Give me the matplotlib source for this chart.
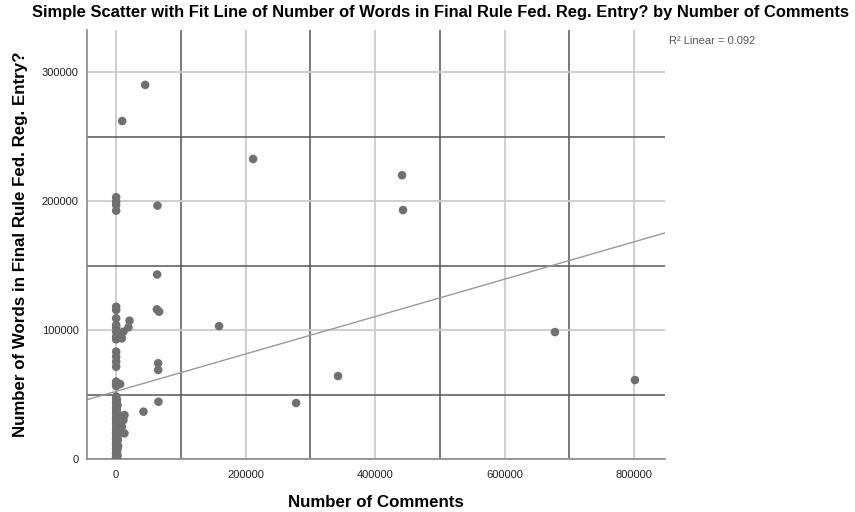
import numpy as np
import matplotlib
matplotlib.use("Agg")
import matplotlib.pyplot as plt
from matplotlib.ticker import MultipleLocator

plt.rcParams['font.family'] = ['Liberation Sans', 'DejaVu Sans']

# number of comments (x) and words in final rule (y)
# dense column of rules with (almost) no comments
col_comments = [
    0, 0, 0, 0,
    0, 0, 0, 0, 0, 0, 0, 0, 0, 0, 0, 0,
    0, 0, 0, 0,
    0, 1000, 0, 2000, 0, 1000, 0, 3000, 0, 1000, 0, 2000, 0, 1000,
    0, 2000, 0, 1000, 0, 3000, 0, 1000, 0, 2000, 0,
    0, 500, 0, 1500, 0, 500, 0, 2500, 0, 500, 0, 1500, 0, 500,
    0, 1500, 0, 500, 0, 2500, 0, 500, 0, 1500, 0, 500, 0, 1500,
    0, 500, 0, 1500, 0, 500, 0, 2500, 0, 500, 0, 1500,
]
col_words = [
    202900, 199500, 196900, 192500,
    118000, 115500, 109100, 103900, 102100, 98700, 94800, 92800, 83200, 79300, 75400, 71500,
    60000, 58700, 57500, 56500,
    48500, 46000, 44000, 42000, 40000, 38000, 36000, 34000, 32000, 30000, 28000, 26000, 24000, 22000,
    20000, 18000, 16000, 14000, 12000, 10000, 8000, 6000, 4500, 3000, 1500,
    47000, 45000, 43000, 41000, 39000, 37000, 35000, 33000, 31000, 29000, 27000, 25000, 23000, 21000,
    19000, 17000, 15000, 13000, 11000, 9000, 7000, 5000, 3500, 2500, 2000, 1000, 500, 800,
    1200, 2200, 4000, 6500, 8500, 10500, 12500, 14500, 16500, 18500, 20500, 22500,
]
# the remaining points
other_comments = [
    20600, 19000, 11300, 6200, 8800, 6200,
    12800, 11300, 8800, 12800,
    44800, 9300, 211600, 441700, 443200, 63800, 63300,
    62900, 66400, 159000, 64900, 64900, 65300, 42200,
    278000, 342800, 678000, 801500,
]
other_words = [
    107200, 102100, 98700, 96100, 93500, 58100,
    34100, 30200, 25000, 19900,
    290000, 262000, 232600, 220000, 193000, 196400, 143000,
    116000, 114200, 103000, 74200, 69000, 44400, 36700,
    43400, 64300, 98400, 61200,
]
r2_text = "R² Linear = 0.092"

x = np.array(col_comments + other_comments, dtype=float)
y = np.array(col_words + other_words, dtype=float)
slope, icpt = np.polyfit(x, y, 1)

fig = plt.figure(figsize=(8.55, 5.12), dpi=100)
ax = fig.add_axes([0.1018, 0.1035, 0.6760, 0.8380])

xlim = (-45000, 848000)
ylim = (0, 332600)
ax.set_xlim(xlim)
ax.set_ylim(ylim)

ax.xaxis.set_major_locator(MultipleLocator(200000))
ax.yaxis.set_major_locator(MultipleLocator(100000))
ax.xaxis.set_minor_locator(MultipleLocator(100000))
ax.yaxis.set_minor_locator(MultipleLocator(50000))
ax.grid(which='major', color='#cccccc', linewidth=1.3)
ax.grid(which='minor', color='#555555', linewidth=1.1)
ax.set_axisbelow(True)
ax.tick_params(which='both', length=0, labelsize=8, colors='#222222', pad=6)
ax.tick_params(axis='x', pad=8)

for s in ['top', 'right']:
    ax.spines[s].set_visible(False)
for s in ['left', 'bottom']:
    ax.spines[s].set_color('#888888')
    ax.spines[s].set_linewidth(1.2)

ax.scatter(x, y, s=38, color='#707070', edgecolors='none', zorder=3)

xs = np.array(xlim)
ax.plot(xs, icpt + slope * xs, color='#999999', linewidth=1.0, zorder=2)

ax.set_xlabel("Number of Comments", fontsize=12.2, fontweight='bold', labelpad=11)
ax.set_ylabel("Number of Words in Final Rule Fed. Reg. Entry?", fontsize=12.2, fontweight='bold', labelpad=10)
fig.text(0.5155, 0.975, "Simple Scatter with Fit Line of Number of Words in Final Rule Fed. Reg. Entry? by Number of Comments",
         ha='center', va='center', fontsize=11.9, fontweight='bold')
fig.text(0.782, 0.920, r2_text, fontsize=8, color='#555555', ha='left', va='center')

fig.savefig("out.png", dpi=100)
